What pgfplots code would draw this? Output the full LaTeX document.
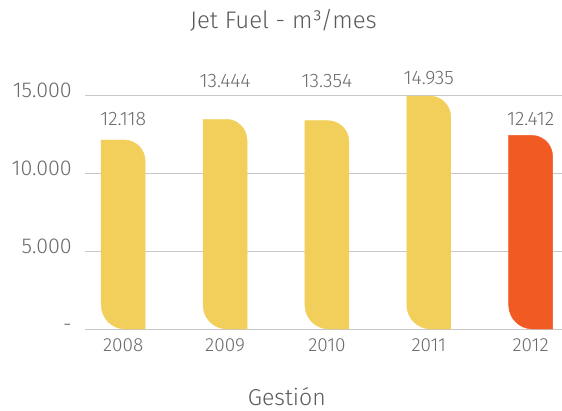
\documentclass[border=0pt]{standalone}
\usepackage{pgfplots}
\usepackage{pgfplotstable}
\pgfplotsset{compat=1.18}
\usepackage{fontspec}
\setmainfont{Fira Sans}[UprightFont={* Light}]
\definecolor{baryel}{HTML}{F2CF5B}
\definecolor{barorg}{HTML}{F15A22}
\definecolor{txtgray}{HTML}{6A6A6A}
\definecolor{gridgray}{HTML}{C8C8C8}
\pgfdeclareplotmark{emptymark}{}
\newcommand{\hw}{0.216}
\newcommand{\rt}{21pt}
\newcommand{\rb}{24pt}
\pgfplotsset{
  roundbar/.style={
    only marks, mark=emptymark, scatter,
    visualization depends on={rawy \as \barval},
    scatter/@pre marker code/.code={%
      \fill[#1] (axis direction cs:-\hw,0)
        -- ([xshift=-\rt]axis direction cs:\hw,0)
        arc[start angle=90, end angle=0, radius=\rt]
        -- (axis direction cs:\hw,-\barval)
        -- ([xshift=\rb]axis direction cs:-\hw,-\barval)
        arc[start angle=270, end angle=180, radius=\rb]
        -- cycle;
    },
    scatter/@post marker code/.code={},
  }
}
% x: category index, y: value, ly: label baseline position, lab: label text
\pgfplotstableread{
x y ly lab
0 12118 13077 12.118
1 13444 15449 13.444
2 13354 15449 13.354
3 14935 15705 14.935
4 12412 13077 12.412
}\jetfuel
\begin{document}
\begin{tikzpicture}
\begin{axis}[
  at={(0pt,0pt)}, anchor=south west,
  scale only axis, width=477pt, height=234pt,
  xmin=-0.375, xmax=4.308, ymin=0, ymax=15000,
  clip=false, scaled y ticks=false,
  axis line style={draw=none}, tick style={draw=none},
  major tick length=0pt,
  ymajorgrids, grid style={gridgray, line width=0.9pt},
  xtick={0,1,2,3,4}, xticklabels={2008,2009,2010,2011,2012},
  ytick={0,5000,10000,15000}, yticklabels={-,5.000,10.000,15.000},
  /pgf/number format/assume math mode=true,
  xticklabel style={anchor=base, inner sep=0pt, yshift=-22pt, font=\fontsize{19}{21}\selectfont, text=txtgray},
  yticklabel style={anchor=base east, inner sep=0pt, xshift=-13pt, yshift=-2pt, font=\fontsize{21.5}{23}\selectfont, text=txtgray},
  title={Jet Fuel - m³/mes},
  title style={at={(axis description cs:0.416,1)}, anchor=base, inner sep=0pt, yshift=60pt, font=\fontsize{24}{26}\selectfont, text=txtgray!85!black},
  xlabel={Gestión},
  xlabel style={at={(axis description cs:0.423,0)}, anchor=base, inner sep=0pt, yshift=-76pt, font=\fontsize{23}{25}\selectfont, text=txtgray!85!black},
]
\addplot[roundbar=baryel] table[x=x, y=y] {
x y
0 12118
1 13444
2 13354
3 14935
};
\addplot[roundbar=barorg] table[x=x, y=y] {
x y
4 12412
};
\addplot[draw=none, mark=none, nodes near coords, point meta=explicit symbolic,
  every node near coord/.append style={anchor=base, inner sep=0pt, font=\fontsize{19.5}{21}\selectfont, text=txtgray}]
  table[x=x, y=ly, meta=lab] {\jetfuel};
\end{axis}
\pgfresetboundingbox
\path (-85pt,-81pt) rectangle (477pt,329pt);
\end{tikzpicture}
\end{document}
